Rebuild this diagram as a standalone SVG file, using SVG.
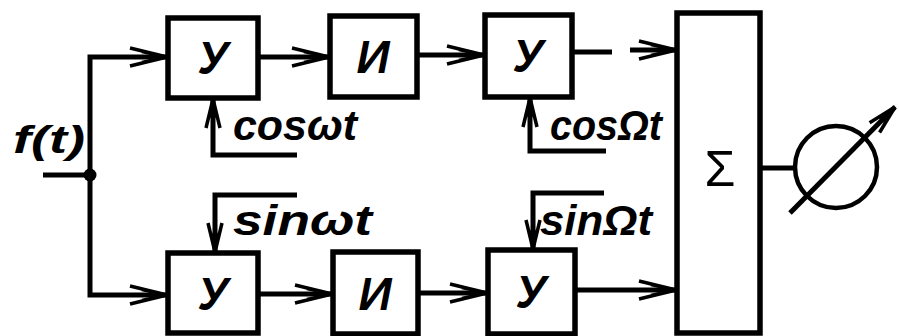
<svg xmlns="http://www.w3.org/2000/svg" width="899" height="336" viewBox="0 0 899 336">
<style>
.box{fill:#fff;stroke:#000;stroke-width:5.5}
.ln{fill:none;stroke:#000;stroke-width:5;stroke-linecap:butt;stroke-linejoin:miter}
.lbl{font-family:"Liberation Sans","DejaVu Sans",sans-serif;font-weight:bold;font-style:italic;fill:#000}
.blk{font-family:"Liberation Sans","DejaVu Sans",sans-serif;font-weight:bold;font-style:italic;font-size:46px;fill:#000;text-anchor:middle}
</style>
<defs>
<marker id="ar" markerUnits="userSpaceOnUse" markerWidth="42" markerHeight="24" refX="38" refY="12" orient="auto" viewBox="0 0 42 24">
<path d="M1,3 L38,12 L1,21 M13,6.5 L38,12 L13,17.5" fill="none" stroke="#000" stroke-width="3.5" stroke-linejoin="miter"/>
</marker>
<marker id="arv" markerUnits="userSpaceOnUse" markerWidth="34" markerHeight="20" refX="30" refY="10" orient="auto" viewBox="0 0 34 20">
<path d="M1,3 L30,10 L1,17 M11,6 L30,10 L11,14" fill="none" stroke="#000" stroke-width="3.5" stroke-linejoin="miter"/>
</marker>
</defs>
<rect width="899" height="336" fill="#fff"/>
<g id="connectors">
<path class="ln" d="M43,175 H90"/>
<path class="ln" d="M90,175 V57 H167" marker-end="url(#ar)"/>
<path class="ln" d="M90,175 V295 H167" marker-end="url(#ar)"/>
<path class="ln" d="M258,57 H329" marker-end="url(#ar)"/>
<path class="ln" d="M417,55 H484" marker-end="url(#ar)"/>
<path class="ln" d="M572,52 H612"/>
<path class="ln" d="M630,50 H676" marker-end="url(#ar)"/>
<path class="ln" d="M258,294 H332" marker-end="url(#ar)"/>
<path class="ln" d="M418,293 H487" marker-end="url(#ar)"/>
<path class="ln" d="M575,290 H676" marker-end="url(#ar)"/>
<path class="ln" d="M297,155 H213 V99" marker-end="url(#arv)"/>
<path class="ln" d="M606,151 H530 V98" marker-end="url(#arv)"/>
<path class="ln" d="M297,195 H215 V252" marker-end="url(#arv)"/>
<path class="ln" d="M604,193 H533 V249" marker-end="url(#arv)"/>
<path class="ln" d="M760,168 H795"/>
<circle cx="90" cy="175" r="6.5" fill="#000"/>
</g>
<g id="input-label"><text class="lbl" x="13" y="153" font-size="38" textLength="72" lengthAdjust="spacingAndGlyphs">f(t)</text></g>
<g id="top-mod"><rect class="box" x="168" y="18" width="90" height="80"/><text class="blk" x="213" y="74">У</text></g>
<g id="top-int"><rect class="box" x="330" y="16" width="87" height="81"/><text class="blk" x="373" y="73">И</text></g>
<g id="top-mod2"><rect class="box" x="485" y="15" width="87" height="82"/><text class="blk" x="528" y="72">У</text></g>
<g id="bot-mod"><rect class="box" x="168" y="253" width="90" height="80"/><text class="blk" x="213" y="310">У</text></g>
<g id="bot-int"><rect class="box" x="333" y="252" width="85" height="82"/><text class="blk" x="375" y="310">И</text></g>
<g id="bot-mod2"><rect class="box" x="488" y="250" width="87" height="84"/><text class="blk" x="531" y="308">У</text></g>
<g id="sum"><rect class="box" x="677" y="13" width="83" height="320"/><text x="720" y="186" font-family="'Liberation Sans','DejaVu Sans',sans-serif" font-size="50" text-anchor="middle" fill="#000">Σ</text></g>
<g id="meter"><circle cx="836" cy="167" r="41" fill="none" stroke="#000" stroke-width="4.5"/><path class="ln" d="M790,213 L895,107" marker-end="url(#arv)"/></g>
<g id="labels">
<text class="lbl" x="233" y="140" font-size="42" textLength="124" lengthAdjust="spacingAndGlyphs">cosωt</text>
<text class="lbl" x="550" y="140" font-size="42" textLength="112" lengthAdjust="spacingAndGlyphs">cosΩt</text>
<text class="lbl" x="233" y="235" font-size="42" textLength="139" lengthAdjust="spacingAndGlyphs">sinωt</text>
<text class="lbl" x="540" y="235" font-size="42" textLength="112" lengthAdjust="spacingAndGlyphs">sinΩt</text>
</g>
</svg>
